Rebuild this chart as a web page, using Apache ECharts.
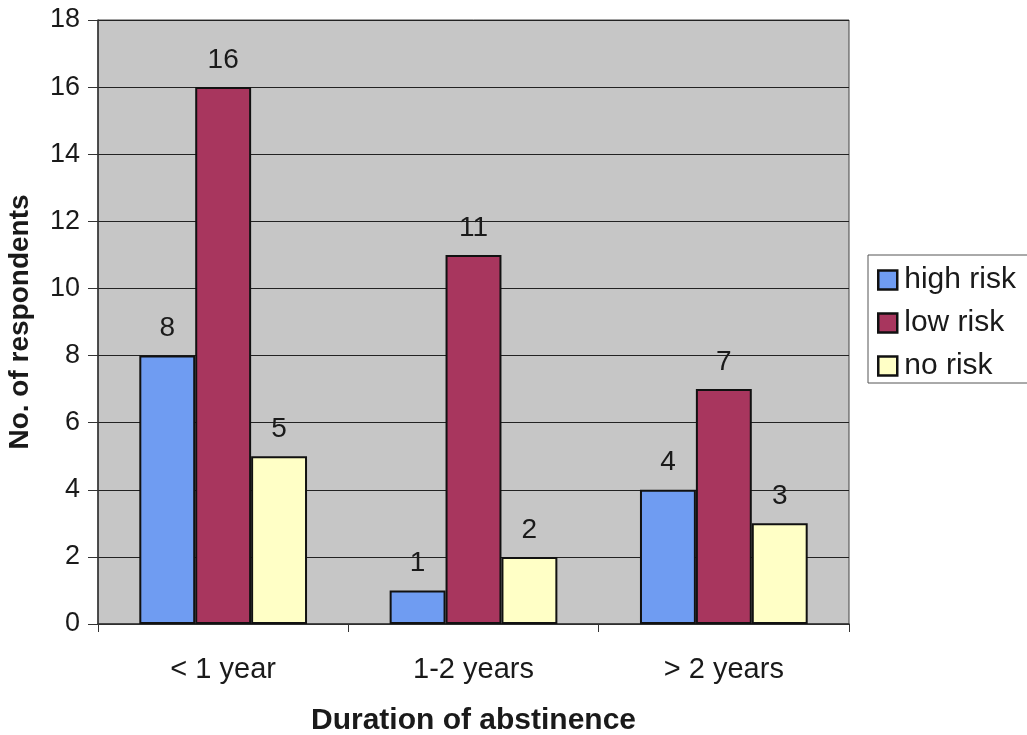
<!DOCTYPE html>
<html><head><meta charset="utf-8">
<script src="https://cdn.jsdelivr.net/npm/echarts@6/dist/echarts.min.js"></script>
<style>html,body{margin:0;padding:0;background:#fff;}#c{width:1027px;height:735px;}</style>
</head><body><div id="c"></div>
<script>
const categories = ['< 1 year', '1-2 years', '> 2 years'];
const seriesNames = ['high risk', 'low risk', 'no risk'];
const highRisk = [8, 1, 4];
const lowRisk = [16, 11, 7];
const noRisk = [5, 2, 3];
const yTicks = [0, 2, 4, 6, 8, 10, 12, 14, 16, 18];
const colors = ['#6f9cf2', '#a8365e', '#ffffc6'];

const font = "'Liberation Sans', Arial, sans-serif";
const chart = echarts.init(document.getElementById('c'));
const mk = (name, data, color) => ({
  name, type: 'bar', data, barGap: '0%', barCategoryGap: '33%',
  itemStyle: { color, borderColor: '#111', borderWidth: 2 },
  label: { show: true, position: 'top', distance: 13, color: '#1a1a1a', fontSize: 28, fontFamily: font }
});
chart.setOption({
  animation: false,
  backgroundColor: '#fff',
  grid: { left: 98, top: 20, width: 751, height: 604, containLabel: false, outerBoundsMode: 'none',
    show: true, backgroundColor: '#c6c6c6', borderColor: '#444', borderWidth: 1 },
  legend: {
    orient: 'vertical', left: 868, top: 255, itemWidth: 19, itemHeight: 19, itemGap: 13,
    padding: [10, 40, 2, 9], borderColor: '#555', borderWidth: 1, backgroundColor: '#fff',
    icon: 'rect', itemStyle: { borderColor: '#111', borderWidth: 2.5 },
    textStyle: { fontSize: 30, fontFamily: font, color: '#1a1a1a', padding: [0, 0, 0, 2] },
    data: seriesNames
  },
  xAxis: {
    type: 'category', data: categories,
    axisLine: { lineStyle: { color: '#333', width: 1.5 } },
    axisTick: { show: true, length: 8, lineStyle: { color: '#333' } },
    axisLabel: { fontSize: 29, fontFamily: font, color: '#1a1a1a', margin: 31 },
    name: 'Duration of abstinence', nameLocation: 'middle', nameGap: 82,
    nameTextStyle: { fontSize: 30, fontWeight: 'bold', fontFamily: font, color: '#1a1a1a' }
  },
  yAxis: {
    type: 'value', min: 0, max: 18, interval: 2,
    axisLine: { show: true, lineStyle: { color: '#333', width: 1.5 } },
    axisTick: { show: true, length: 10, lineStyle: { color: '#333' } },
    splitLine: { lineStyle: { color: '#222', width: 1.2 } },
    axisLabel: { fontSize: 27, fontFamily: font, color: '#1a1a1a', margin: 18,
      formatter: v => yTicks.includes(v) ? String(v) : '' },
    name: 'No. of respondents', nameLocation: 'middle', nameGap: 64, nameRotate: 90,
    nameTextStyle: { fontSize: 28, fontWeight: 'bold', fontFamily: font, color: '#1a1a1a' }
  },
  series: [mk(seriesNames[0], highRisk, colors[0]), mk(seriesNames[1], lowRisk, colors[1]), mk(seriesNames[2], noRisk, colors[2])]
});
</script></body></html>
